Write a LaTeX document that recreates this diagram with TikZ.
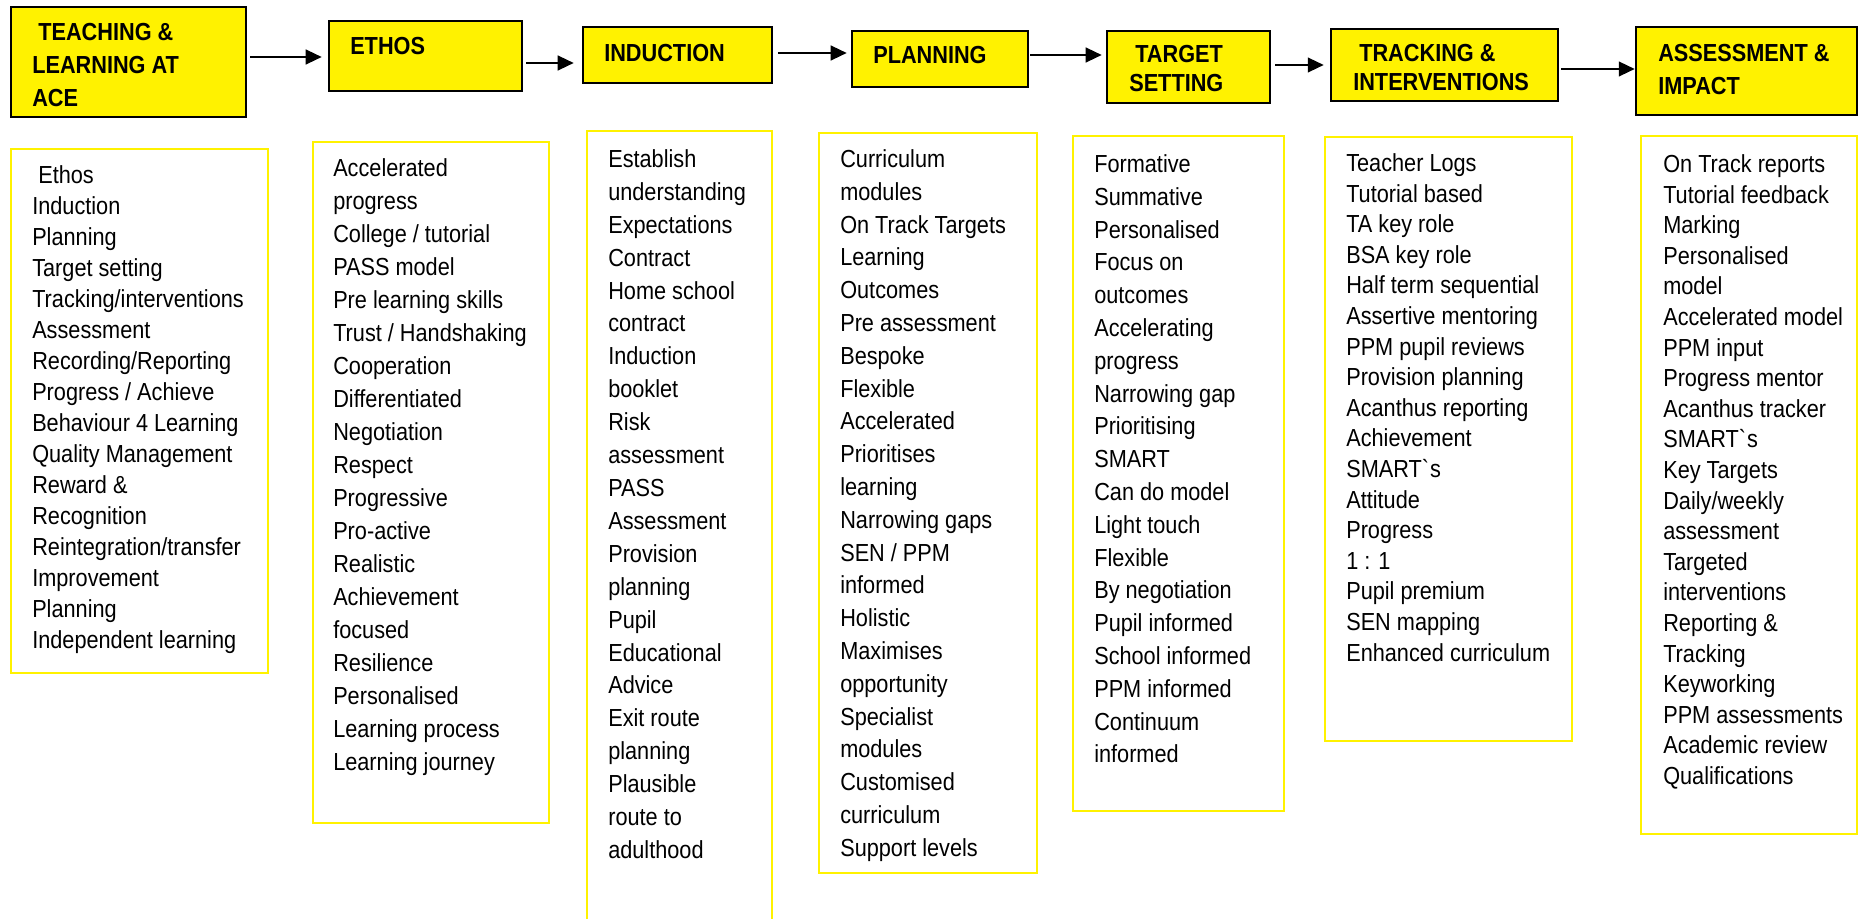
\documentclass[tikz,border=0pt]{standalone}
\usepackage{fontspec}
\newfontfamily\narrowsf[FakeStretch=0.88]{Liberation Sans}
\usetikzlibrary{arrows.meta}
\usetikzlibrary{fit}

\tikzset{
  headbox/.style={draw=black, line width=1.9pt, fill=yellow, inner sep=0pt},
  listbox/.style={draw=yellow, line width=1.8pt, inner sep=0pt},
  headtxt/.style={inner sep=0pt, align=left, font=\narrowsf\bfseries\fontsize{18.5}{#1}\selectfont},
  headtxt/.default=24.75,
  listtxt/.style={inner sep=0pt, align=left, anchor=north west, font=\narrowsf\fontsize{18.5}{#1}\selectfont},
  flow/.style={line width=1.7pt, -{Triangle[length=12pt,width=11pt]}, shorten <=2.25pt, shorten >=4.5pt}
}

\begin{document}
\begin{tikzpicture}[x=0.75pt,y=0.75pt,yscale=-1,xscale=1]
\useasboundingbox (0,0) rectangle (1863,919);
%Shape: Rectangle [headings]
\node[headbox, fit={(11,7) (246,117)}] (teach) {};
\node[headbox, fit={(329,21) (522,91)}] (ethos) {};
\node[headbox, fit={(583,27) (772,83)}] (induct) {};
\node[headbox, fit={(852,31) (1028,87)}] (plan) {};
\node[headbox, fit={(1107,31) (1270,103)}] (target) {};
\node[headbox, fit={(1331,29) (1558,101)}] (track) {};
\node[headbox, fit={(1636,27) (1857,115)}] (assess) {};
%Shape: Rectangle [lists]
\node[listbox, fit={(11,149) (268,673)}] (teachbox) {};
\node[listbox, fit={(313,142) (549,823)}] (ethosbox) {};
\node[listbox, fit={(587,131) (772,930)}] (inductbox) {};
\node[listbox, fit={(819,133) (1037,873)}] (planbox) {};
\node[listbox, fit={(1073,136) (1284,811)}] (targetbox) {};
\node[listbox, fit={(1325,137) (1572,741)}] (trackbox) {};
\node[listbox, fit={(1641,136) (1857,834)}] (assessbox) {};
%Straight Lines [arrows]
\draw[flow] (teach.east |- 0,57) -- (ethos.west |- 0,57);
\draw[flow, shorten >=6pt] (ethos.east |- 0,63) -- (induct.west |- 0,63);
\draw[flow, shorten <=3.5pt, shorten >=3pt] (induct.east |- 0,53) -- (plan.west |- 0,53);
\draw[flow, shorten <=0.75pt, shorten >=3pt] (plan.east |- 0,55) -- (target.west |- 0,55);
\draw[flow, shorten <=3pt] (target.east |- 0,65) -- (track.west |- 0,65);
\draw[flow, shorten <=1.5pt, shorten >=0pt] (track.east |- 0,69) -- (assess.west |- 0,69);
% Text Node [headings]
\node[headtxt, anchor=north west] (teachtxt) at (32,23.3) {\ TEACHING \&\\LEARNING AT\\ACE};
\node[headtxt, anchor=base west] (ethostxt) at (350,55) {ETHOS};
\node[headtxt, anchor=base west] (inducttxt) at (604,62) {INDUCTION};
\node[headtxt, anchor=base west] (plantxt) at (873,64) {PLANNING};
\node[headtxt=21.75, anchor=north west] (targettxt) at (1129,45.3) {\ TARGET\\SETTING};
\node[headtxt=21.75, anchor=north west] (tracktxt) at (1353,44.3) {\ TRACKING \&\\INTERVENTIONS};
\node[headtxt, anchor=north west] (assesstxt) at (1658,44.3) {ASSESSMENT \&\\IMPACT};
% Text Node [lists]
\node[listtxt=23.25] (teachlist) at (32,165.3) {\ Ethos\\Induction\\Planning\\Target setting\\Tracking/interventions\\Assessment\\Recording/Reporting\\Progress / Achieve\\Behaviour 4 Learning\\Quality Management\\Reward \&\\Recognition\\Reintegration/transfer\\Improvement\\Planning\\Independent learning};
\node[listtxt=24.75] (ethoslist) at (333,158.3) {Accelerated\\progress\\College / tutorial\\PASS model\\Pre learning skills\\Trust / Handshaking\\Cooperation\\Differentiated\\Negotiation\\Respect\\Progressive\\Pro-active\\Realistic\\Achievement\\focused\\Resilience\\Personalised\\Learning process\\Learning journey};
\node[listtxt=24.68] (inductlist) at (608,149.3) {Establish\\understanding\\Expectations\\Contract\\Home school\\contract\\Induction\\booklet\\Risk\\assessment\\PASS\\Assessment\\Provision\\planning\\Pupil\\Educational\\Advice\\Exit route\\planning\\Plausible\\route to\\adulthood};
\node[listtxt=24.6] (planlist) at (840,149.3) {Curriculum\\modules\\On Track Targets\\Learning\\Outcomes\\Pre assessment\\Bespoke\\Flexible\\Accelerated\\Prioritises\\learning\\Narrowing gaps\\SEN / PPM\\informed\\Holistic\\Maximises\\opportunity\\Specialist\\modules\\Customised\\curriculum\\Support levels};
\node[listtxt=24.6] (targetlist) at (1094,154.3) {Formative\\Summative\\Personalised\\Focus on\\outcomes\\Accelerating\\progress\\Narrowing gap\\Prioritising\\SMART\\Can do model\\Light touch\\Flexible\\By negotiation\\Pupil informed\\School informed\\PPM informed\\Continuum\\informed};
\node[listtxt=22.95] (tracklist) at (1346,153.3) {Teacher Logs\\Tutorial based\\TA key role\\BSA key role\\Half term sequential\\Assertive mentoring\\PPM pupil reviews\\Provision planning\\Acanthus reporting\\Achievement\\SMART\textasciigrave s\\Attitude\\Progress\\1 : 1\\Pupil premium\\SEN mapping\\Enhanced curriculum};
\node[listtxt=22.95] (assesslist) at (1663,154.3) {On Track reports\\Tutorial feedback\\Marking\\Personalised\\model\\Accelerated model\\PPM input\\Progress mentor\\Acanthus tracker\\SMART\textasciigrave s\\Key Targets\\Daily/weekly\\assessment\\Targeted\\interventions\\Reporting \&\\Tracking\\Keyworking\\PPM assessments\\Academic review\\Qualifications};
\end{tikzpicture}
\end{document}
